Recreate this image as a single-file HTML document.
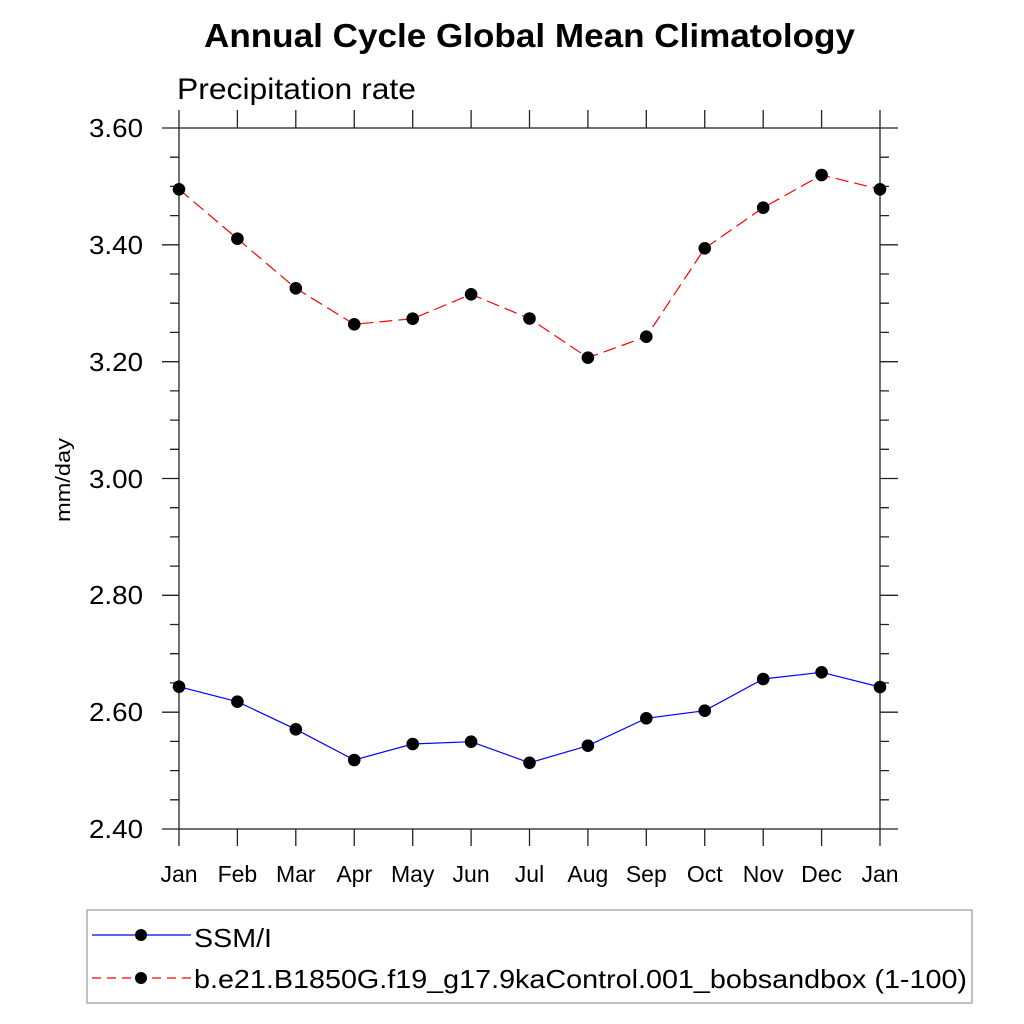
<!DOCTYPE html>
<html>
<head>
<meta charset="utf-8">
<style>
html,body{margin:0;padding:0;background:#fff;}
svg{display:block;}
text{font-family:"Liberation Sans",Arial,sans-serif;fill:#000;}
</style>
</head>
<body>
<svg width="1024" height="1024" viewBox="0 0 1024 1024" xmlns="http://www.w3.org/2000/svg">
<rect width="1024" height="1024" fill="#fff"/>
<!-- Title -->
<text x="204" y="47" font-size="33" font-weight="bold" textLength="651" lengthAdjust="spacingAndGlyphs">Annual Cycle Global Mean Climatology</text>
<text x="177" y="99" font-size="30" textLength="239" lengthAdjust="spacingAndGlyphs">Precipitation rate</text>

<!-- Frame -->
<g stroke="#222" stroke-width="1.3" fill="none">
<rect x="179" y="128" width="701" height="701"/>
<path d="M162 128H179M162 244.83H179M162 361.67H179M162 478.5H179M162 595.33H179M162 712.17H179M162 829H179"/>
<path d="M880 128H898M880 244.83H898M880 361.67H898M880 478.5H898M880 595.33H898M880 712.17H898M880 829H898"/>
<path d="M170 157.2H179M170 186.4H179M170 215.6H179M170 274H179M170 303.2H179M170 332.4H179M170 390.9H179M170 420.1H179M170 449.3H179M170 507.7H179M170 536.9H179M170 566.1H179M170 624.5H179M170 653.7H179M170 682.9H179M170 741.4H179M170 770.6H179M170 799.8H179"/>
<path d="M880 157.2H889M880 186.4H889M880 215.6H889M880 274H889M880 303.2H889M880 332.4H889M880 390.9H889M880 420.1H889M880 449.3H889M880 507.7H889M880 536.9H889M880 566.1H889M880 624.5H889M880 653.7H889M880 682.9H889M880 741.4H889M880 770.6H889M880 799.8H889"/>
<path d="M179 110V128M237.4 110V128M295.8 110V128M354.25 110V128M412.7 110V128M471.1 110V128M529.5 110V128M587.9 110V128M646.3 110V128M704.75 110V128M763.2 110V128M821.6 110V128M880 110V128"/>
<path d="M179 829V846M237.4 829V846M295.8 829V846M354.25 829V846M412.7 829V846M471.1 829V846M529.5 829V846M587.9 829V846M646.3 829V846M704.75 829V846M763.2 829V846M821.6 829V846M880 829V846"/>
</g>

<!-- Y labels -->
<g font-size="26" text-anchor="end">
<text x="143" y="137" textLength="54" lengthAdjust="spacingAndGlyphs">3.60</text>
<text x="143" y="254" textLength="54" lengthAdjust="spacingAndGlyphs">3.40</text>
<text x="143" y="371" textLength="54" lengthAdjust="spacingAndGlyphs">3.20</text>
<text x="143" y="488" textLength="54" lengthAdjust="spacingAndGlyphs">3.00</text>
<text x="143" y="604" textLength="54" lengthAdjust="spacingAndGlyphs">2.80</text>
<text x="143" y="721" textLength="54" lengthAdjust="spacingAndGlyphs">2.60</text>
<text x="143" y="838" textLength="54" lengthAdjust="spacingAndGlyphs">2.40</text>
</g>
<text transform="translate(70,480) rotate(-90)" font-size="20" text-anchor="middle" textLength="84" lengthAdjust="spacingAndGlyphs">mm/day</text>

<!-- X labels -->
<g font-size="23" text-anchor="middle">
<text x="179" y="882">Jan</text>
<text x="237.4" y="882">Feb</text>
<text x="295.8" y="882">Mar</text>
<text x="354.25" y="882">Apr</text>
<text x="412.7" y="882">May</text>
<text x="471.1" y="882">Jun</text>
<text x="529.5" y="882">Jul</text>
<text x="587.9" y="882">Aug</text>
<text x="646.3" y="882">Sep</text>
<text x="704.75" y="882">Oct</text>
<text x="763.2" y="882">Nov</text>
<text x="821.6" y="882">Dec</text>
<text x="880" y="882">Jan</text>
</g>

<!-- Red series -->
<polyline fill="none" stroke="#ff0000" stroke-width="1.2" stroke-dasharray="13 6"
points="179,189.3 237.4,238.7 295.8,288.3 354.25,324.3 412.7,318.7 471.1,294.3 529.5,318.5 587.9,357.7 646.3,336.7 704.75,248.3 763.2,207.7 821.6,175 880,189.3"/>
<g fill="#000">
<circle cx="179" cy="189.3" r="6.3"/><circle cx="237.4" cy="238.7" r="6.3"/><circle cx="295.8" cy="288.3" r="6.3"/><circle cx="354.25" cy="324.3" r="6.3"/><circle cx="412.7" cy="318.7" r="6.3"/><circle cx="471.1" cy="294.3" r="6.3"/><circle cx="529.5" cy="318.5" r="6.3"/><circle cx="587.9" cy="357.7" r="6.3"/><circle cx="646.3" cy="336.7" r="6.3"/><circle cx="704.75" cy="248.3" r="6.3"/><circle cx="763.2" cy="207.7" r="6.3"/><circle cx="821.6" cy="175" r="6.3"/><circle cx="880" cy="189.3" r="6.3"/>
</g>

<!-- Blue series -->
<polyline fill="none" stroke="#0000ff" stroke-width="1.2"
points="179,686.7 237.4,701.7 295.8,729.3 354.25,760 412.7,744 471.1,741.7 529.5,762.8 587.9,745.7 646.3,718.3 704.75,710.7 763.2,679 821.6,672.3 880,687"/>
<g fill="#000">
<circle cx="179" cy="686.7" r="6.3"/><circle cx="237.4" cy="701.7" r="6.3"/><circle cx="295.8" cy="729.3" r="6.3"/><circle cx="354.25" cy="760" r="6.3"/><circle cx="412.7" cy="744" r="6.3"/><circle cx="471.1" cy="741.7" r="6.3"/><circle cx="529.5" cy="762.8" r="6.3"/><circle cx="587.9" cy="745.7" r="6.3"/><circle cx="646.3" cy="718.3" r="6.3"/><circle cx="704.75" cy="710.7" r="6.3"/><circle cx="763.2" cy="679" r="6.3"/><circle cx="821.6" cy="672.3" r="6.3"/><circle cx="880" cy="687" r="6.3"/>
</g>

<!-- Legend -->
<rect x="87" y="910" width="885" height="93" fill="none" stroke="#999" stroke-width="1.2"/>
<line x1="92" y1="935" x2="191" y2="935" stroke="#0000ff" stroke-width="1.2"/>
<circle cx="141" cy="935" r="6" fill="#000"/>
<text x="194" y="947" font-size="26" textLength="78" lengthAdjust="spacingAndGlyphs">SSM/I</text>
<line x1="92" y1="978" x2="191" y2="978" stroke="#ff0000" stroke-width="1.2" stroke-dasharray="9 6"/>
<circle cx="141" cy="978" r="6" fill="#000"/>
<text x="194" y="988" font-size="26" textLength="773" lengthAdjust="spacingAndGlyphs">b.e21.B1850G.f19_g17.9kaControl.001_bobsandbox (1-100)</text>
</svg>
</body>
</html>
